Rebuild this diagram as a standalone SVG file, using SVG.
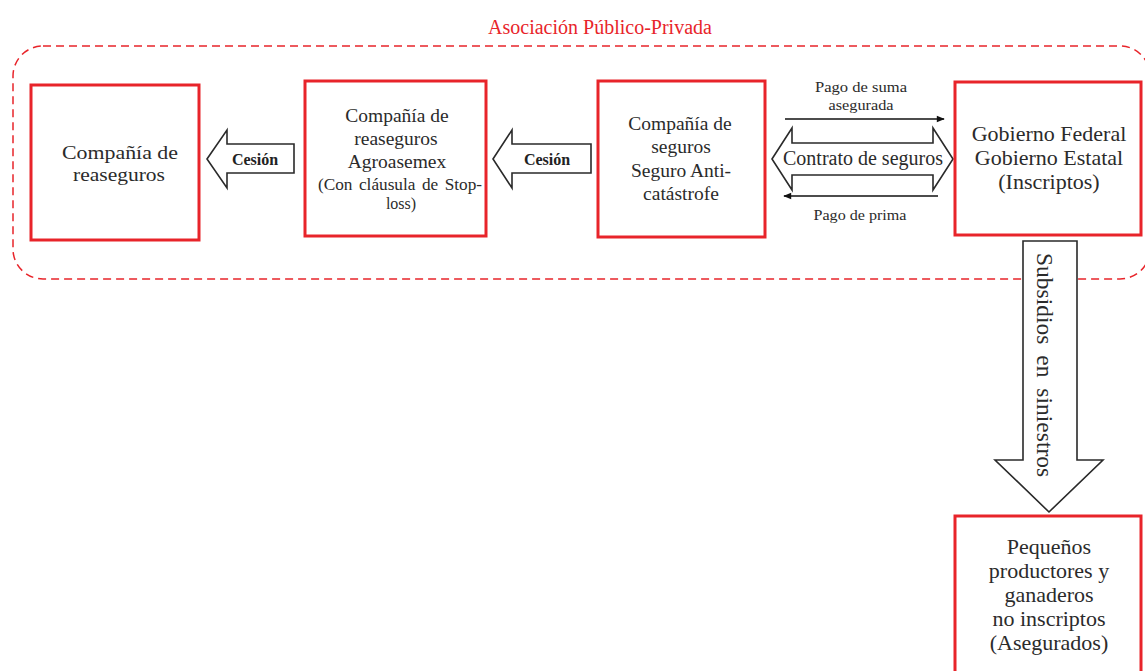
<svg xmlns="http://www.w3.org/2000/svg" width="1145" height="671" viewBox="0 0 1145 671">
  <style>
    .node { fill: #ffffff; stroke: #e8242a; stroke-width: 3; }
    .t { font-family: "Liberation Serif", "Times New Roman", serif; fill: #2b2b2b; text-anchor: middle; }
    .vt { font-family: "Liberation Serif", "Times New Roman", serif; fill: #2b2b2b; text-anchor: start; }
    .n19 { font-size: 19.5px; }
    .n22 { font-size: 22px; }
    .small { font-size: 15px; }
    .lbl { font-family: "Liberation Serif", "Times New Roman", serif; font-size: 16px; font-weight: bold; fill: #222; text-anchor: middle; }
    .block { fill: #ffffff; stroke: #2a2a2a; stroke-width: 1.6; stroke-linejoin: miter; }
    .line { stroke: #111; stroke-width: 1.5; fill: none; }
  </style>
  <defs>
    <marker id="head" viewBox="0 0 10 10" refX="9" refY="5" markerWidth="9" markerHeight="8" markerUnits="userSpaceOnUse" orient="auto">
      <path d="M0,1 L10,5 L0,9 z" fill="#111"/>
    </marker>
  </defs>

  <rect width="1145" height="671" fill="#ffffff"/>

  <!-- public-private partnership boundary -->
  <g id="asociacion">
    <rect x="13" y="46" width="1137" height="233" rx="30" ry="30" fill="none" stroke="#e8242a" stroke-width="1.5" stroke-dasharray="8,5"/>
    <text x="600" y="34" font-family="Liberation Serif, Times New Roman, serif" font-size="20" fill="#e8242a" text-anchor="middle">Asociación Público-Privada</text>
  </g>

  <g id="connectors">
    <!-- Cesión (Agroasemex to reinsurer) -->
    <path class="block" d="M207,159 L227,130 L227,144 L294,144 L294,173 L227,173 L227,188 Z"/>
    <text class="lbl" x="255" y="165">Cesión</text>
    <!-- Cesión (insurer to Agroasemex) -->
    <path class="block" d="M493,159 L512,130 L512,144 L591,144 L591,173 L512,173 L512,188 Z"/>
    <text class="lbl" x="547" y="165">Cesión</text>
    <!-- insurance contract (two-way) -->
    <path class="block" d="M772,159 L792,128 L792,143 L933,143 L933,128 L953,159 L933,190 L933,175 L792,175 L792,190 Z"/>
    <text class="t" font-size="20" x="863" y="165">Contrato de seguros</text>
    <!-- payment of insured sum -->
    <line class="line" x1="785" y1="119" x2="944" y2="119" marker-end="url(#head)"/>
    <text class="t small" x="861" y="92" textLength="92" lengthAdjust="spacingAndGlyphs">Pago de suma</text>
    <text class="t small" x="861" y="110" textLength="65" lengthAdjust="spacingAndGlyphs">asegurada</text>
    <!-- premium payment -->
    <line class="line" x1="938" y1="196" x2="784" y2="196" marker-end="url(#head)"/>
    <text class="t small" x="860" y="220" textLength="93" lengthAdjust="spacingAndGlyphs">Pago de prima</text>
    <!-- subsidies -->
    <path class="block" d="M1023,241 L1077,241 L1077,460 L1103,460 L1049,512 L995,460 L1023,460 Z"/>
    <text class="vt" font-size="23.5" word-spacing="5" transform="translate(1037,253) rotate(90)" x="0" y="0">Subsidios en siniestros</text>
  </g>

  <g id="reaseguradora">
    <rect class="node" x="31" y="85" width="168" height="155"/>
    <text class="t n19" x="120" y="159" textLength="116" lengthAdjust="spacingAndGlyphs">Compañía de</text>
    <text class="t n19" x="119" y="181" textLength="92" lengthAdjust="spacingAndGlyphs">reaseguros</text>
  </g>

  <g id="agroasemex">
    <rect class="node" x="305" y="81" width="181" height="155"/>
    <text class="t n19" x="397" y="122">Compañía de</text>
    <text class="t n19" x="396" y="145">reaseguros</text>
    <text class="t n19" x="397" y="168">Agroasemex</text>
    <text class="t" font-size="16" word-spacing="2" x="400" y="190" textLength="164" lengthAdjust="spacingAndGlyphs">(Con cláusula de Stop-</text>
    <text class="t" font-size="16" x="401" y="209">loss)</text>
  </g>

  <g id="aseguradora">
    <rect class="node" x="598" y="81" width="167" height="156"/>
    <text class="t n19" x="680" y="130">Compañía de</text>
    <text class="t n19" x="681" y="153">seguros</text>
    <text class="t n19" x="681" y="177">Seguro Anti-</text>
    <text class="t n19" x="681" y="200">catástrofe</text>
  </g>

  <g id="gobierno">
    <rect class="node" x="955" y="82" width="186" height="153"/>
    <text class="t n22" x="1049" y="141">Gobierno Federal</text>
    <text class="t n22" x="1049" y="165">Gobierno Estatal</text>
    <text class="t n22" x="1049" y="189">(Inscriptos)</text>
  </g>

  <g id="productores">
    <rect class="node" x="955" y="516" width="186" height="170"/>
    <text class="t n22" x="1049" y="554">Pequeños</text>
    <text class="t n22" x="1049" y="578">productores y</text>
    <text class="t n22" x="1049" y="602">ganaderos</text>
    <text class="t n22" x="1049" y="626">no inscriptos</text>
    <text class="t n22" x="1049" y="650">(Asegurados)</text>
  </g>
</svg>
